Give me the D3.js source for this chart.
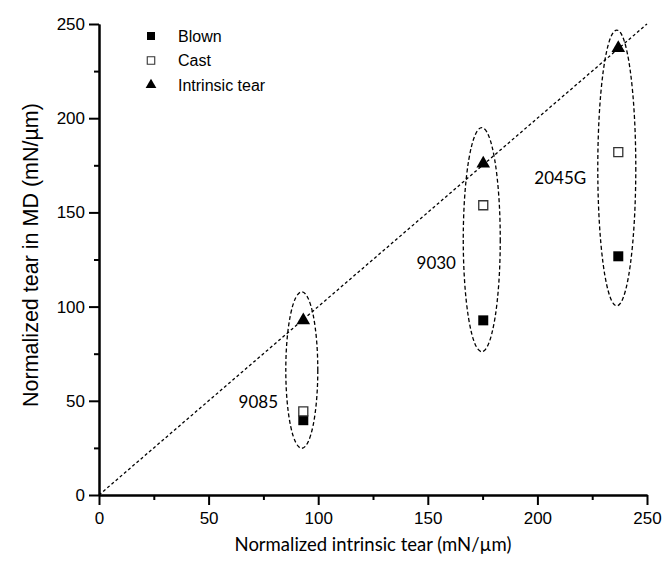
<!DOCTYPE html>
<html>
<head>
<meta charset="utf-8">
<script src="https://cdn.jsdelivr.net/npm/d3@7"></script>
<style>
  html, body { margin: 0; padding: 0; background: #fff; }
  svg { display: block; }
</style>
</head>
<body>
<svg id="chart" width="665" height="574"></svg>
<script>
// ---- data ----
const categories = ["9085", "9030", "2045G"];
const intrinsicTear = [93.2, 175.3, 236.9];          // x values (mN/µm)
const blownMD = [39.7, 92.7, 126.7];                  // Blown, normalized tear in MD
const castMD = [44.4, 153.8, 182.0];                  // Cast, normalized tear in MD
const intrinsicMD = [93.2, 176.4, 237.7];             // Intrinsic tear plotted on y
const groupEllipseLow = [24.8, 76.1, 100.4];          // ellipse bottom (y units)
const groupEllipseHigh = [107.8, 195.0, 246.8];       // ellipse top (y units)
const xTicks = [0, 50, 100, 150, 200, 250];
const yTicks = [0, 50, 100, 150, 200, 250];
const xMinorTicks = [25, 75, 125, 175, 225];
const yMinorTicks = [25, 75, 125, 175, 225];
const legendLabels = ["Blown", "Cast", "Intrinsic tear"];

// ---- layout ----
const W = 665, H = 574;
const margin = { left: 99, right: 18, top: 24, bottom: 79 };
const svg = d3.select("#chart");

const x = d3.scaleLinear().domain([0, 250]).range([margin.left, W - margin.right]);
const y = d3.scaleLinear().domain([0, 250]).range([H - margin.bottom, margin.top]);

// identity dotted line y = x
svg.append("line")
  .attr("x1", x(0)).attr("y1", y(0))
  .attr("x2", x(250)).attr("y2", y(250))
  .attr("stroke", "#000").attr("stroke-width", 1.3)
  .attr("stroke-dasharray", "3,2.5");

// group ellipses
const groups = categories.map((c, i) => ({
  name: c, x: intrinsicTear[i], lo: groupEllipseLow[i], hi: groupEllipseHigh[i]
}));
const rxPx = [16, 18.5, 19];
svg.selectAll("ellipse.grp").data(groups).join("ellipse")
  .attr("class", "grp")
  .attr("cx", d => x(d.x) - 1.5)
  .attr("cy", d => (y(d.lo) + y(d.hi)) / 2)
  .attr("rx", (d, i) => rxPx[i])
  .attr("ry", d => (y(d.lo) - y(d.hi)) / 2)
  .attr("fill", "none").attr("stroke", "#000").attr("stroke-width", 1.3)
  .attr("stroke-dasharray", "4,2.5");

// group labels
const labelOffset = [[-45, 401], [-47, 262], [-58, 177]];
svg.selectAll("text.grp").data(groups).join("text")
  .attr("class", "grp")
  .attr("x", (d, i) => x(d.x) + labelOffset[i][0])
  .attr("y", (d, i) => labelOffset[i][1])
  .attr("text-anchor", "middle")
  .attr("dominant-baseline", "central")
  .attr("font-family", "Lato, 'Open Sans', sans-serif")
  .attr("font-size", 17)
  .attr("fill", "#000")
  .text(d => d.name);

// axes
const axisFont = "'Liberation Sans', Arial, sans-serif";
const yAxis = svg.append("g").attr("transform", `translate(${margin.left},0)`)
  .call(d3.axisLeft(y).tickValues(yTicks).tickSize(10).tickSizeOuter(0).tickPadding(4).tickFormat(d3.format("d")));
const yMinor = svg.append("g").attr("transform", `translate(${margin.left},0)`)
  .call(d3.axisLeft(y).tickValues(yMinorTicks).tickSize(5).tickSizeOuter(0).tickFormat(""));
const xAxis = svg.append("g").attr("transform", `translate(0,${H - margin.bottom})`)
  .call(d3.axisBottom(x).tickValues(xTicks).tickSize(10).tickSizeOuter(0).tickPadding(7).tickFormat(d3.format("d")));
const xMinor = svg.append("g").attr("transform", `translate(0,${H - margin.bottom})`)
  .call(d3.axisBottom(x).tickValues(xMinorTicks).tickSize(5).tickSizeOuter(0).tickFormat(""));

[yAxis, yMinor, xAxis, xMinor].forEach(g => {
  g.selectAll(".domain").attr("stroke", "#000").attr("stroke-width", 2);
  g.selectAll(".tick line").attr("stroke", "#000").attr("stroke-width", 2);
  g.selectAll(".tick text").attr("font-family", axisFont).attr("font-size", 17).attr("fill", "#000");
});

// axis titles
svg.append("text")
  .attr("x", (x(0) + x(250)) / 2).attr("y", 544)
  .attr("text-anchor", "middle").attr("dominant-baseline", "central")
  .attr("font-family", "Lato, 'Open Sans', sans-serif").attr("font-size", 18.5)
  .attr("fill", "#000")
  .text("Normalized intrinsic tear (mN/µm)");

svg.append("text")
  .attr("transform", `translate(31,${255}) rotate(-90)`)
  .attr("text-anchor", "middle").attr("dominant-baseline", "central")
  .attr("font-family", axisFont).attr("font-size", 21.5)
  .attr("fill", "#000")
  .text("Normalized tear in MD (mN/µm)");

// points
const sq = d3.symbol().type(d3.symbolSquare).size(100);
const tri = d3.symbol().type(d3.symbolTriangle).size(80);

svg.selectAll("path.blown").data(categories).join("path")
  .attr("class", "blown")
  .attr("transform", (d, i) => `translate(${x(intrinsicTear[i])},${y(blownMD[i])})`)
  .attr("d", sq).attr("fill", "#000");

svg.selectAll("path.cast").data(categories).join("path")
  .attr("class", "cast")
  .attr("transform", (d, i) => `translate(${x(intrinsicTear[i])},${y(castMD[i])})`)
  .attr("d", d3.symbol().type(d3.symbolSquare).size(81))
  .attr("fill", "#fff").attr("stroke", "#333").attr("stroke-width", 1.3);

svg.selectAll("path.intr").data(categories).join("path")
  .attr("class", "intr")
  .attr("transform", (d, i) => `translate(${x(intrinsicTear[i])},${y(intrinsicMD[i]) + 1})`)
  .attr("d", tri).attr("fill", "#000");

// legend
const legend = svg.append("g").attr("transform", "translate(151,36)");
const legendRows = legend.selectAll("g").data(legendLabels).join("g")
  .attr("transform", (d, i) => `translate(0,${i * 24.5})`);
legendRows.append("path")
  .attr("d", (d, i) => i === 2
    ? d3.symbol().type(d3.symbolTriangle).size(50)()
    : d3.symbol().type(d3.symbolSquare).size(i === 0 ? 64 : 56)())
  .attr("fill", (d, i) => i === 1 ? "#fff" : "#000")
  .attr("stroke", (d, i) => i === 1 ? "#333" : "none")
  .attr("stroke-width", 1.1);
legendRows.append("text")
  .attr("x", 27).attr("y", 0)
  .attr("dominant-baseline", "central")
  .attr("font-family", axisFont).attr("font-size", 16)
  .attr("fill", "#000")
  .text(d => d);
</script>
</body>
</html>
